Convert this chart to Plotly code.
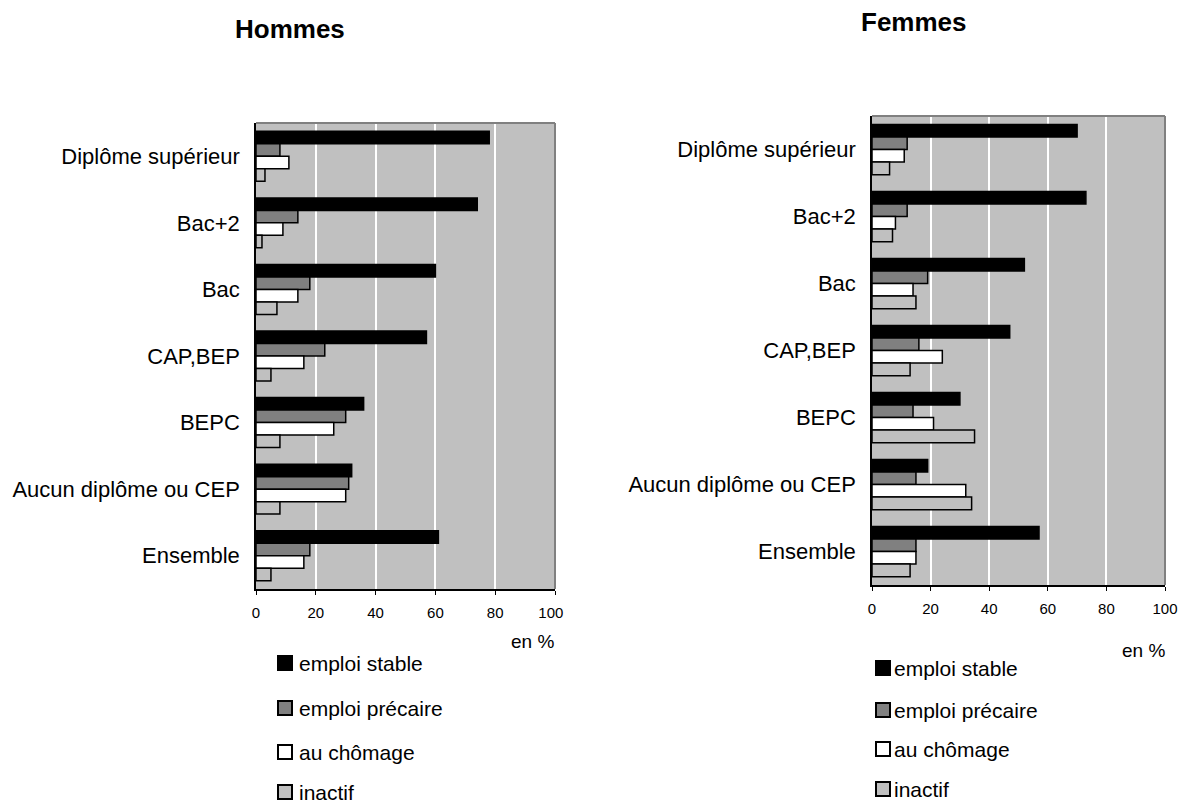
import plotly.graph_objects as go

categories = ["Diplôme supérieur", "Bac+2", "Bac", "CAP,BEP", "BEPC",
              "Aucun diplôme ou CEP", "Ensemble"]
series_names = ["emploi stable", "emploi précaire", "au chômage", "inactif"]

hommes_stable = [78, 74, 60, 57, 36, 32, 61]
hommes_precaire = [8, 14, 18, 23, 30, 31, 18]
hommes_chomage = [11, 9, 14, 16, 26, 30, 16]
hommes_inactif = [3, 2, 7, 5, 8, 8, 5]

femmes_stable = [70, 73, 52, 47, 30, 19, 57]
femmes_precaire = [12, 12, 19, 16, 14, 15, 15]
femmes_chomage = [11, 8, 14, 24, 21, 32, 15]
femmes_inactif = [6, 7, 15, 13, 35, 34, 13]

x_ticks = [0, 20, 40, 60, 80, 100]
x_ticktext_left = ["0", "20", "40", "60", "80", "100\u00a0\u00a0"]
x_ticktext_right = ["0", "20", "40", "60", "80", "100"]

colors = ["#000000", "#808080", "#FFFFFF", "#C0C0C0"]
FONT = "Liberation Sans, Arial, sans-serif"

# page is 1186x806; the html body has an 8px margin (top/left/right)
OFF = 8
W, H = 1186 - 2 * OFF, 806 - OFF


def fx(px):
    return (px - OFF) / W


def fy(py):
    return 1 - (py - OFF) / H


fig = go.Figure()

hommes = [hommes_stable, hommes_precaire, hommes_chomage, hommes_inactif]
femmes = [femmes_stable, femmes_precaire, femmes_chomage, femmes_inactif]

for i, (name, vals) in enumerate(zip(series_names, hommes)):
    fig.add_trace(go.Bar(
        x=vals, y=categories, orientation="h", name=name,
        marker=dict(color=colors[i], line=dict(color="#000000", width=1.5)),
        xaxis="x", yaxis="y", showlegend=False,
    ))
for i, (name, vals) in enumerate(zip(series_names, femmes)):
    fig.add_trace(go.Bar(
        x=vals, y=categories, orientation="h", name=name,
        marker=dict(color=colors[i], line=dict(color="#000000", width=1.5)),
        xaxis="x2", yaxis="y2", showlegend=False,
    ))

xaxis_common = dict(
    range=[0, 100], tickmode="array", tickvals=x_ticks,
    showgrid=True, gridcolor="#FFFFFF",
    gridwidth=2, showline=True, linecolor="#000000", linewidth=1.5,
    ticks="outside", ticklen=4, tickcolor="#000000",
    tickfont=dict(family=FONT, size=15, color="#000000"),
    zeroline=False, fixedrange=True, ticklabelstandoff=5,
    automargin=False, ticklabeloverflow="allow",
)
yaxis_common = dict(
    autorange="reversed", showline=True, linecolor="#000000", linewidth=1.5,
    showgrid=False, ticks="", ticklabelstandoff=10,
    tickfont=dict(family=FONT, size=22, color="#000000"), fixedrange=True,
    automargin=False,
)

fig.update_layout(
    width=W, height=H,
    margin=dict(l=0, r=0, t=0, b=0),
    paper_bgcolor="#FFFFFF",
    plot_bgcolor="#C0C0C0",
    barmode="group", bargap=0.25, bargroupgap=0,
    font=dict(family=FONT, color="#000000"),
    showlegend=False,
    xaxis=dict(domain=[fx(256), fx(555)], anchor="y", ticktext=x_ticktext_left,
               **xaxis_common),
    yaxis=dict(domain=[fy(589), fy(123)], anchor="x", **yaxis_common),
    xaxis2=dict(domain=[fx(872), fx(1165)], anchor="y2",
                ticktext=x_ticktext_right, **xaxis_common),
    yaxis2=dict(domain=[fy(585), fy(116)], anchor="x2", **yaxis_common),
)

# gray top/right border of each plot area
for xr, yr in (("x domain", "y domain"), ("x2 domain", "y2 domain")):
    fig.add_shape(type="line", xref=xr, yref=yr, x0=0, x1=1, y0=1, y1=1,
                  line=dict(color="#808080", width=2))
    fig.add_shape(type="line", xref=xr, yref=yr, x0=1, x1=1, y0=0, y1=1,
                  line=dict(color="#808080", width=2))

ann = dict(xref="paper", yref="paper", showarrow=False,
           xanchor="center", yanchor="middle")
fig.add_annotation(text="<b>Hommes</b>", x=fx(290), y=fy(29),
                   font=dict(family=FONT, size=26, color="#000000"), **ann)
fig.add_annotation(text="<b>Femmes</b>", x=fx(914), y=fy(22),
                   font=dict(family=FONT, size=26, color="#000000"), **ann)
fig.add_annotation(text="en %", x=fx(532), y=fy(641),
                   font=dict(family=FONT, size=19, color="#000000"), **ann)
fig.add_annotation(text="en %", x=fx(1143), y=fy(650),
                   font=dict(family=FONT, size=19, color="#000000"), **ann)

# legends (one per panel): square key + label text
legend_layouts = [
    dict(sq_x=278, txt_x=297, ys=[663, 708, 752, 792]),
    dict(sq_x=876, txt_x=892, ys=[668, 710, 749, 789]),
]
SQ = 14
for lay in legend_layouts:
    for i, name in enumerate(series_names):
        cy = lay["ys"][i]
        fig.add_shape(type="rect", xref="paper", yref="paper",
                      x0=fx(lay["sq_x"]), x1=fx(lay["sq_x"] + SQ),
                      y0=fy(cy + SQ / 2), y1=fy(cy - SQ / 2),
                      fillcolor=colors[i], line=dict(color="#000000", width=2))
        fig.add_annotation(text=name, x=fx(lay["txt_x"]), y=fy(cy),
                           xref="paper", yref="paper", showarrow=False,
                           xanchor="left", yanchor="middle",
                           font=dict(family=FONT, size=21, color="#000000"))

fig.write_html("out.html")
